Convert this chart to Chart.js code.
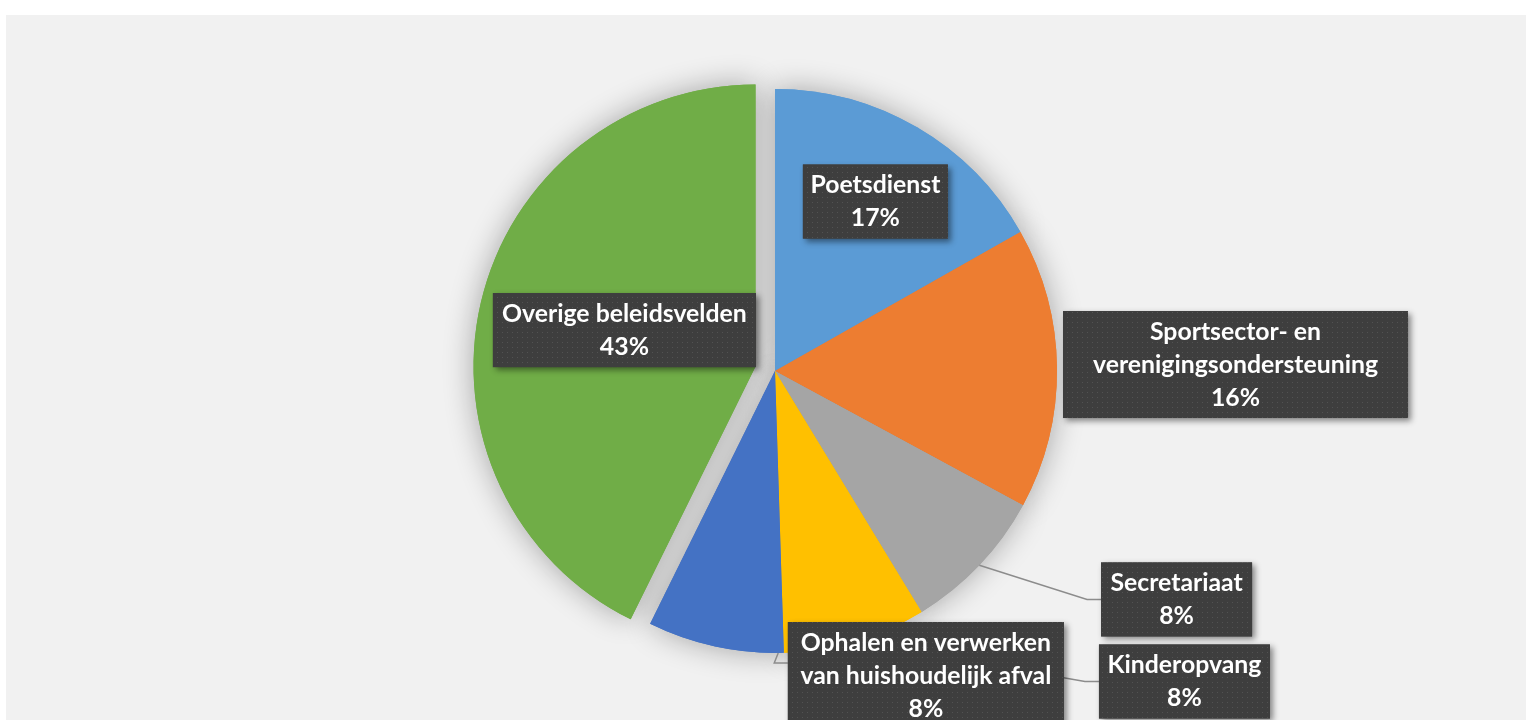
<!DOCTYPE html>
<html>
<head>
<meta charset="utf-8">
<script src="https://cdn.jsdelivr.net/npm/chart.js@4.4.0/dist/chart.umd.min.js"></script>
<style>
  html, body { margin: 0; padding: 0; background: #fff; }
  #wrap { width: 1526px; height: 720px; }
</style>
</head>
<body>
<div id="wrap"><canvas id="pie" width="1526" height="720"></canvas></div>
<script>
const categories = [
    'Poetsdienst',
    'Sportsector- en verenigingsondersteuning',
    'Secretariaat',
    'Kinderopvang',
    'Ophalen en verwerken van huishoudelijk afval',
    'Overige beleidsvelden'
];
const shares = [16.8, 16.1, 8.4, 8.2, 7.8, 42.7];

// how each label is broken over lines
const labelLines = [
    ['Poetsdienst'],
    ['Sportsector- en', 'verenigingsondersteuning'],
    ['Secretariaat'],
    ['Kinderopvang'],
    ['Ophalen en verwerken', 'van huishoudelijk afval'],
    ['Overige beleidsvelden']
];

const sliceColors = ['#5B9BD5', '#ED7D31', '#A5A5A5', '#FFC000', '#4472C4', '#70AD47'];
// pixels each slice is pulled out of the pie (chart.js' own offset also grows the radius)
const explode = [0, 0, 0, 0, 0, 20];

// label box centre relative to pie centre, in units of radius, and box width
const labelPos = [[0.356, -0.601], [1.633, -0.023], [1.424, 0.810], [1.452, 1.101], [0.535, 1.080], [-0.534, -0.145]];
const labelWidth = [145, 345, 151, 171, 276, 263];
const hasLeader = [false, false, true, true, true, false];

const patternCanvas = document.createElement('canvas');
patternCanvas.width = 5;
patternCanvas.height = 5;
const pc = patternCanvas.getContext('2d');
pc.fillStyle = '#3e3e3e';
pc.fillRect(0, 0, 5, 5);
pc.fillStyle = '#525252';
pc.fillRect(2, 2, 1, 1);

const background = {
    id: 'background',
    beforeDraw(chart) {
        const ctx = chart.ctx;
        ctx.save();
        ctx.fillStyle = '#ffffff';
        ctx.fillRect(0, 0, chart.width, chart.height);
        ctx.fillStyle = '#f1f1f1';
        ctx.fillRect(6, 15, chart.width - 6, chart.height - 15);
        ctx.restore();
    }
};

const explodeSlices = {
    id: 'explodeSlices',
    afterUpdate(chart) {
        chart.getDatasetMeta(0).data.forEach((arc, i) => {
            const d = explode[i];
            if (!d) return;
            const base = Object.getPrototypeOf(arc).draw;
            arc.draw = function (ctx, area) {
                const mid = (this.startAngle + this.endAngle) / 2;
                ctx.save();
                ctx.translate(Math.cos(mid) * d, Math.sin(mid) * d);
                base.call(this, ctx, area);
                ctx.restore();
            };
        });
    }
};

// soft shadow under the pie, painted over by the real slices afterwards
const pieShadow = {
    id: 'pieShadow',
    beforeDatasetsDraw(chart) {
        const ctx = chart.ctx;
        ctx.save();
        ctx.shadowColor = 'rgba(0,0,0,0.32)';
        ctx.shadowBlur = 30;
        chart.getDatasetMeta(0).data.forEach(arc => arc.draw(ctx));
        ctx.restore();
    }
};

const dataLabels = {
    id: 'dataLabels',
    afterDatasetsDraw(chart) {
        const ctx = chart.ctx;
        const arcs = chart.getDatasetMeta(0).data;
        const total = shares.reduce((a, b) => a + b, 0);

        ctx.save();
        ctx.font = 'bold 24px Lato';
        const size = 24 * 245 / ctx.measureText('Overige beleidsvelden').width;
        const lineH = 33;

        const boxes = arcs.map((arc, i) => {
            const lines = labelLines[i].concat([Math.round(shares[i] / total * 100) + '%']);
            const r = arc.outerRadius;
            const cx = arc.x + labelPos[i][0] * r;
            const cy = arc.y + labelPos[i][1] * r;
            const w = labelWidth[i];
            const h = lines.length * lineH + 8;
            return { lines, cx, cy, w, h, left: cx - w / 2, top: cy - h / 2 };
        });

        // leader lines first so boxes sit on top
        ctx.strokeStyle = '#8c8c8c';
        ctx.lineWidth = 1.5;
        arcs.forEach((arc, i) => {
            if (!hasLeader[i]) return;
            const b = boxes[i];
            const r = arc.outerRadius;
            let ang = (arc.startAngle + arc.endAngle) / 2;
            let y = b.cy;
            if (i === 4) {
                ang = arc.startAngle + 0.02;
                y = b.top + 41;
            }
            const px = arc.x + Math.cos(ang) * r;
            const py = arc.y + Math.sin(ang) * r;
            ctx.beginPath();
            ctx.moveTo(px, py);
            if (i === 4) {
                ctx.lineTo(px - 4, y);
            } else {
                ctx.lineTo(b.left - 14, y);
            }
            ctx.lineTo(b.left, y);
            ctx.stroke();
        });

        boxes.forEach(b => {
            ctx.save();
            ctx.shadowColor = 'rgba(0,0,0,0.45)';
            ctx.shadowBlur = 6;
            ctx.shadowOffsetX = 3;
            ctx.shadowOffsetY = 3;
            ctx.fillStyle = '#3e3e3e';
            ctx.fillRect(b.left, b.top, b.w, b.h);
            ctx.restore();
            ctx.fillStyle = ctx.createPattern(patternCanvas, 'repeat');
            ctx.fillRect(b.left, b.top, b.w, b.h);

            ctx.fillStyle = '#ffffff';
            ctx.font = 'bold ' + size.toFixed(1) + 'px Lato';
            ctx.textAlign = 'center';
            ctx.textBaseline = 'middle';
            const y0 = b.cy - (b.lines.length - 1) * lineH / 2;
            b.lines.forEach((t, k) => ctx.fillText(t, b.cx, y0 + k * lineH));
        });
        ctx.restore();
    }
};

new Chart(document.getElementById('pie').getContext('2d'), {
    type: 'pie',
    data: {
        labels: categories,
        datasets: [{
            data: shares,
            backgroundColor: sliceColors,
            borderWidth: 0,
            radius: 282
        }]
    },
    options: {
        responsive: false,
        animation: false,
        layout: { padding: { left: 24, right: 0, top: 22, bottom: 0 } },
        plugins: {
            legend: { display: false },
            tooltip: { enabled: false }
        }
    },
    plugins: [background, explodeSlices, pieShadow, dataLabels]
});
</script>
</body>
</html>
